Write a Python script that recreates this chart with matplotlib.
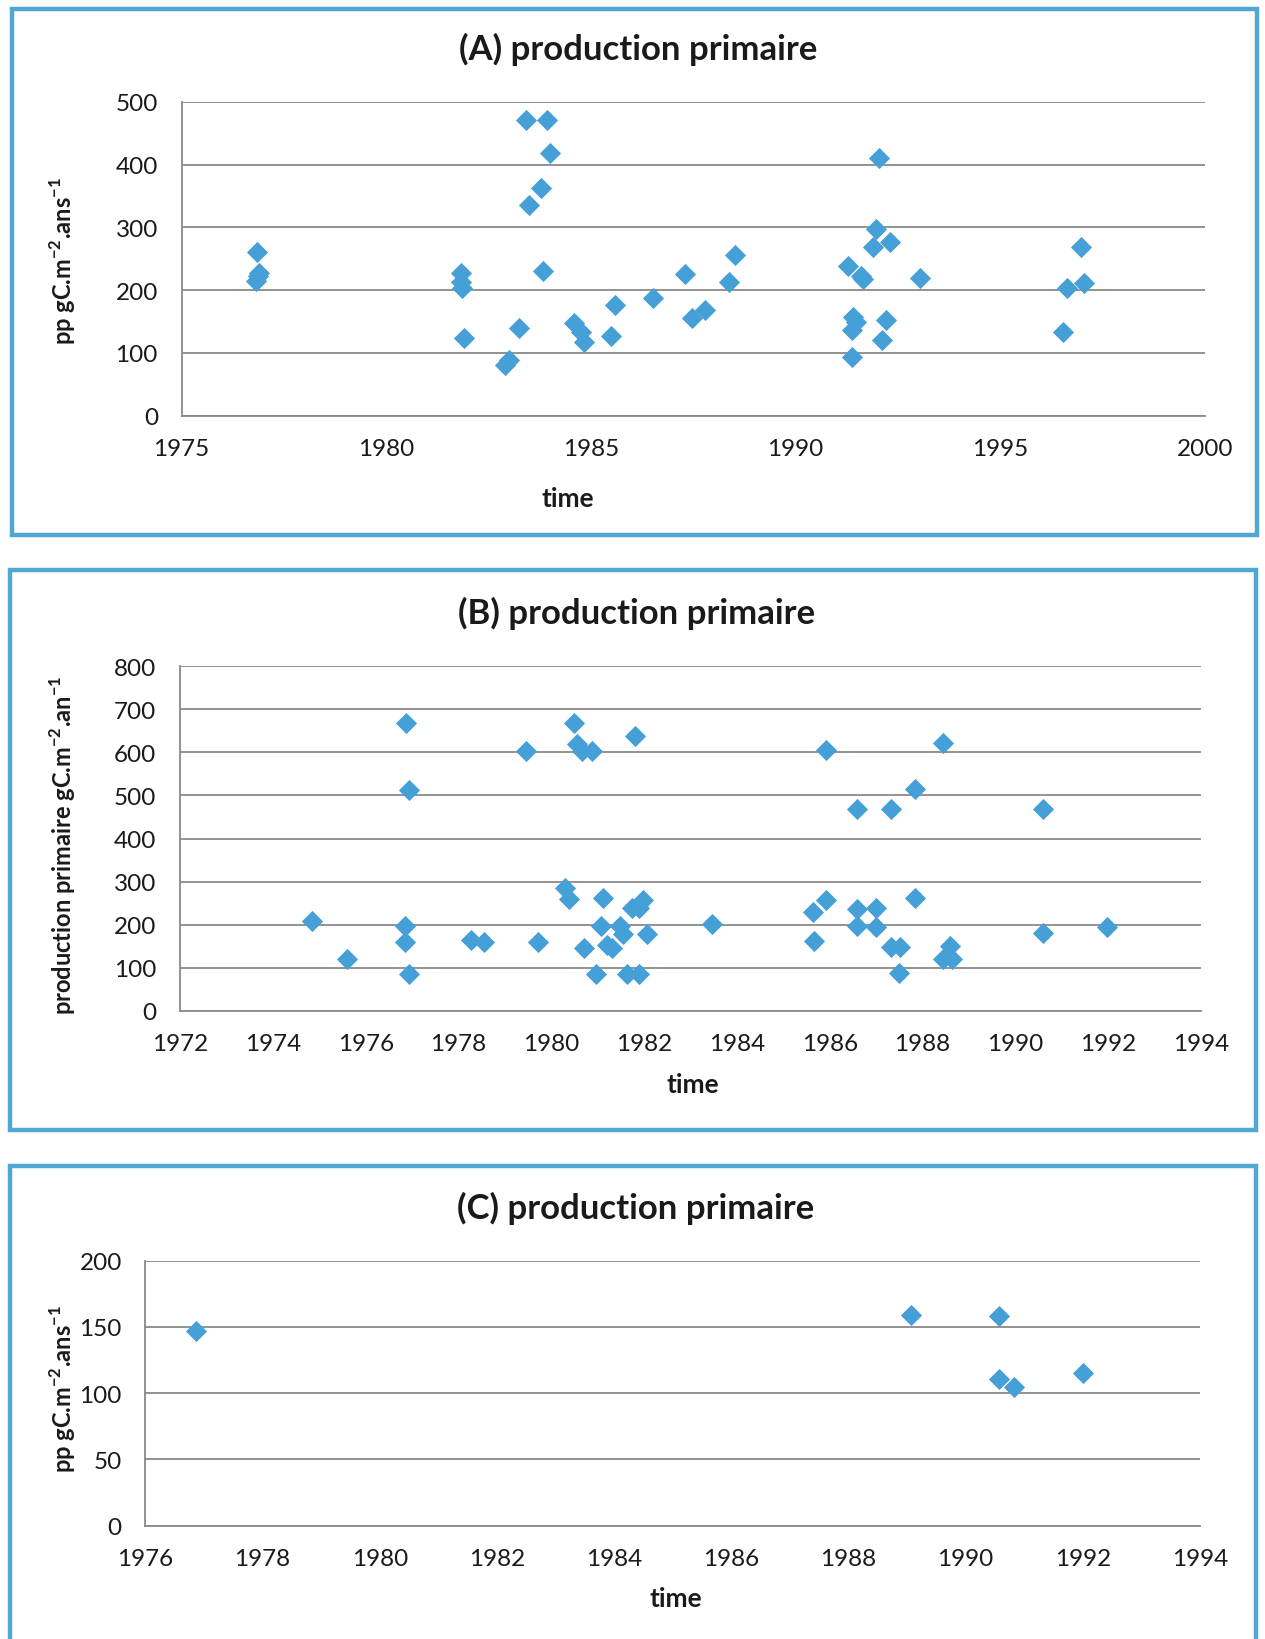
import numpy as np
import matplotlib
matplotlib.use("Agg")
import matplotlib.pyplot as plt
from matplotlib.patches import Rectangle

plt.rcParams["font.family"] = ["Lato", "DejaVu Sans"]
plt.rcParams["mathtext.fontset"] = "custom"
plt.rcParams["mathtext.rm"] = "Lato"
plt.rcParams["mathtext.bf"] = "Lato:bold"

# ---- (A) primary production, pp gC.m-2.ans-1 ----
a_year = [1976.85, 1976.90, 1976.87, 1976.83,
          1981.82, 1981.82, 1981.85, 1981.89,
          1982.90, 1983.00, 1983.24, 1983.42, 1983.92, 1984.01, 1983.77, 1983.50, 1983.84,
          1984.58, 1984.76, 1984.84, 1985.50, 1985.60, 1986.52,
          1987.30, 1987.46, 1987.79, 1988.38, 1988.53,
          1991.28, 1991.59, 1991.65, 1991.39, 1991.47, 1991.37, 1991.37,
          1991.88, 1991.96, 1992.04, 1992.30, 1992.22, 1992.12, 1993.05,
          1996.53, 1996.62, 1996.98, 1997.05]
a_pp = [261, 228, 222, 215,
        228, 213, 203, 123,
        80, 88, 140, 471, 471, 418, 362, 335, 231,
        147, 133, 117, 127, 177, 187,
        225, 156, 169, 213, 256,
        239, 222, 218, 157, 150, 136, 93,
        269, 297, 411, 276, 152, 121, 219,
        134, 203, 269, 211]
a_xticks = [1975, 1980, 1985, 1990, 1995, 2000]
a_yticks = [0, 100, 200, 300, 400, 500]

# ---- (B) primary production, gC.m-2.an-1 ----
b_year = [1974.84, 1975.59, 1976.86, 1976.94, 1976.85, 1976.85, 1976.94,
          1978.27, 1978.54, 1979.46, 1979.71,
          1980.30, 1980.39, 1980.48, 1980.55, 1980.66, 1980.87, 1980.71, 1980.97,
          1981.07, 1981.12, 1981.20, 1981.30, 1981.48, 1981.55, 1981.63, 1981.88,
          1981.73, 1981.90, 1981.98, 1982.07, 1981.80,
          1983.47, 1985.92, 1988.43, 1987.84, 1986.58, 1987.32, 1990.59,
          1985.65, 1985.92, 1985.66, 1986.58, 1986.58, 1987.00, 1987.00, 1987.84,
          1987.32, 1987.52, 1987.50, 1988.60, 1988.45, 1988.63, 1990.59, 1991.97]
b_pp = [209, 120, 668, 513, 197, 159, 85,
        164, 160, 604, 160,
        284, 259, 668, 620, 604, 604, 146, 85,
        197, 261, 153, 146, 197, 178, 85, 85,
        238, 238, 258, 178, 637,
        201, 606, 621, 515, 469, 469, 469,
        229, 258, 161, 236, 197, 238, 195, 261,
        147, 147, 87, 151, 120, 120, 180, 195]
b_xticks = [1972, 1974, 1976, 1978, 1980, 1982, 1984, 1986, 1988, 1990, 1992, 1994]
b_yticks = [0, 100, 200, 300, 400, 500, 600, 700, 800]

# ---- (C) primary production, pp gC.m-2.ans-1 ----
c_year = [1976.86, 1989.07, 1990.57, 1990.57, 1990.82, 1992.00]
c_pp = [147, 159, 158, 111, 105, 115]
c_xticks = [1976, 1978, 1980, 1982, 1984, 1986, 1988, 1990, 1992, 1994]
c_yticks = [0, 50, 100, 150, 200]

W, H, DPI = 1265, 1640, 100
FRAME = "#4EA8D3"
MARK = "#46A0D8"
GRID = "#8A8A8A"
TEXT = "#1A1A1A"

fig = plt.figure(figsize=(W / DPI, H / DPI), dpi=DPI)
fig.patch.set_facecolor("white")


def fx(x):
    return x / W


def fy(y):
    return 1 - y / H


def frame(x0, y0, x1, y1):
    fig.patches.append(Rectangle((fx(x0), fy(y1)), (x1 - x0) / W, (y1 - y0) / H,
                                 transform=fig.transFigure, fill=False,
                                 ec=FRAME, lw=3.2, zorder=0))


def panel(box, xs, ys, xticks, yticks, title, title_xy, ylabel, ylabel_xy, xlabel_xy):
    x0, y0, x1, y1 = box
    ax = fig.add_axes([fx(x0), fy(y1), (x1 - x0) / W, (y1 - y0) / H])
    ax.plot(xs, ys, ls="none", marker="D", ms=10.5, mfc=MARK, mec=MARK, mew=0.6,
            clip_on=False, zorder=3)
    ax.set_xlim(xticks[0], xticks[-1])
    ax.set_ylim(yticks[0], yticks[-1])
    ax.set_xticks(xticks)
    ax.set_yticks(yticks)
    ax.grid(axis="y", color=GRID, lw=1.3)
    ax.set_axisbelow(True)
    for s in ("top", "right"):
        ax.spines[s].set_visible(False)
    for s in ("left", "bottom"):
        ax.spines[s].set_color(GRID)
        ax.spines[s].set_linewidth(1.3)
    ax.tick_params(axis="both", length=0, labelsize=17.5, labelcolor=TEXT)
    ax.tick_params(axis="x", pad=16)
    ax.tick_params(axis="y", pad=17)
    fig.text(fx(title_xy[0]), fy(title_xy[1]), title, ha="center", va="center",
             fontsize=25, fontweight="bold", color=TEXT)
    fig.text(fx(ylabel_xy[0]), fy(ylabel_xy[1]), ylabel, ha="center", va="center",
             rotation=90, fontsize=17, fontweight="bold", color=TEXT)
    fig.text(fx(xlabel_xy[0]), fy(xlabel_xy[1]), "time", ha="center", va="center",
             fontsize=19, fontweight="bold", color=TEXT)
    return ax


pp_label = r"pp gC.m$^{\mathbf{-2}}$.ans$^{\mathbf{-1}}$"
b_label = r"production primaire gC.m$^{\mathbf{-2}}$.an$^{\mathbf{-1}}$"

frame(12, 10, 1257, 536)
frame(10, 571, 1256, 1131)
frame(10, 1167, 1256, 1660)

panel((181.5, 102.7, 1205, 416.7), a_year, a_pp, a_xticks, a_yticks,
      "(A) production primaire", (638, 49), pp_label, (63, 261), (568, 499))
panel((180, 667.3, 1201, 1011.7), b_year, b_pp, b_xticks, b_yticks,
      "(B) production primaire", (637, 613), b_label, (63, 845), (693, 1085))
panel((145.4, 1261.8, 1200, 1526.6), c_year, c_pp, c_xticks, c_yticks,
      "(C) production primaire", (636, 1208), pp_label, (63, 1389), (676, 1599))

fig.savefig("out.png", dpi=DPI, facecolor="white")
